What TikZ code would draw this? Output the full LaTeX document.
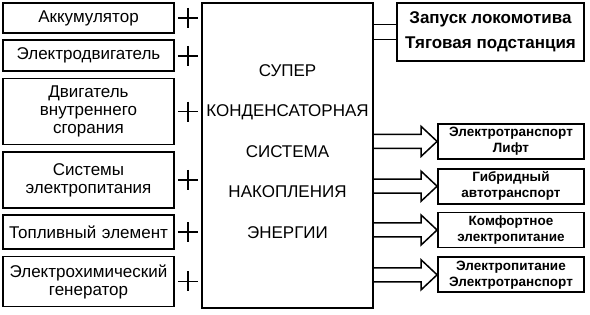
\documentclass[tikz,border=0pt]{standalone}
\usepackage{fontspec}
\setmainfont{Liberation Sans}
\usetikzlibrary{positioning,calc}

\begin{document}
\begin{tikzpicture}[x=1pt, y=-1pt,
    srcbox/.style={rectangle, draw=black, line width=1.8pt,
                minimum width=171pt, text width=165pt, inner sep=0pt,
                align=center, font=\fontsize{17}{18}\selectfont},
    core/.style={rectangle, draw=black, line width=1.5pt,
                minimum width=171pt, minimum height=305pt},
    usebox/.style={rectangle, draw=black, line width=1.8pt,
                minimum width=146pt, minimum height=35pt, text width=140pt,
                inner sep=0pt, align=center,
                font=\bfseries\fontsize{13.5}{16}\selectfont},
    link/.style={line width=1.5pt},
    hollow/.style={line width=1.5pt},
    plusmark/.pic={\draw[line width=1.5pt] (-10,0) -- (10,0) (0,-10) -- (0,10);}
]
    \useasboundingbox (0,0) rectangle (590,315);

    % sources on the left
    \node[srcbox, minimum height=30pt] (akk) at (88.5,18) {Аккумулятор};
    \node[srcbox, minimum height=31pt, below=5.5pt of akk] (edv) {Электродвигатель};
    \node[srcbox, minimum height=66pt, below=5.5pt of edv] (dvs) {Двигатель\\внутреннего\\сгорания};
    \node[srcbox, minimum height=56pt, below=5.5pt of dvs] (sep) {Системы\\электропитания};
    \node[srcbox, minimum height=34pt, below=5.5pt of sep] (tel) {Топливный элемент};
    \node[srcbox, minimum height=50pt, below=5.5pt of tel] (ehg) {Электрохимический\\генератор};

    \foreach \s in {akk,edv,dvs,sep,tel,ehg}
        \pic at ($(\s.east)+(13,0)$) {plusmark};

    % storage system
    \node[core] (sys) at (287.5,155.5) {};
    \node[align=center, font=\fontsize{17}{40.5}\selectfont] (systext) at ($(sys.center)+(0,-4)$)
        {СУПЕР\\КОНДЕНСАТОРНАЯ\\СИСТЕМА\\НАКОПЛЕНИЯ\\ЭНЕРГИИ};

    % consumers on the right
    \node[rectangle, draw=black, line width=1.8pt, minimum width=187pt, minimum height=58pt,
          align=center, font=\bfseries\fontsize{17}{25}\selectfont] (start) at (490.5,32)
          {Запуск локомотива\\Тяговая подстанция};
    \node[usebox, anchor=north] (trans) at (511,123) {Электротранспорт\\Лифт};
    \node[usebox, below=8pt of trans] (hybr) {Гибридный\\автотранспорт};
    \node[usebox, below=7pt of hybr] (comf) {Комфортное\\электропитание};
    \node[usebox, below=8pt of comf] (pwr) {Электропитание\\Электротранспорт};

    \foreach \dy in {-7.5,7.5}
        \draw[link] ($(sys.east |- start.west)+(0,\dy)$) -- ($(start.west)+(0,\dy)$);

    \foreach \t in {trans,hybr,comf,pwr}
        \draw[hollow] ($(sys.east |- \t.west)+(0,-7)$) -- ($(\t.west)+(-16,-7)$)
            -- ($(\t.west)+(-16,-15)$) -- (\t.west) -- ($(\t.west)+(-16,15)$)
            -- ($(\t.west)+(-16,7)$) -- ($(sys.east |- \t.west)+(0,7)$);
\end{tikzpicture}
\end{document}
